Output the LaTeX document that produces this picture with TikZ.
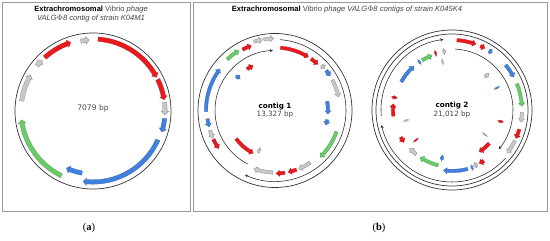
\documentclass[tikz,border=0pt]{standalone}
\usepackage{fontspec}
\setmainfont{Liberation Sans}
\newfontfamily\dejavu{DejaVu Sans}
\newfontfamily\lserif{Liberation Serif}
\usetikzlibrary{arrows.meta}
\definecolor{gred}{RGB}{232,26,30}
\definecolor{gblue}{RGB}{66,128,222}
\definecolor{ggreen}{RGB}{104,204,104}
\definecolor{ggray}{RGB}{200,200,200}
\definecolor{txtgray}{RGB}{70,70,70}
\tikzset{
  gene/red/.style={fill=gred,draw=gred!80!black,line width=0.25pt},
  gene/blue/.style={fill=gblue,draw=gblue!80!black,line width=0.25pt},
  gene/green/.style={fill=ggreen,draw=ggreen!75!black,line width=0.25pt},
  gene/gray/.style={fill=ggray,draw=black!45,line width=0.3pt},
  ring/.style={draw=black!80,line width=0.7pt},
  backbone/.style={draw=black!85,line width=0.55pt,-{Stealth[length=3.2pt,width=3pt]}},
  panel/.style={draw=black!40,line width=0.8pt},
  title/.style={font=\fontsize{7.6}{9}\selectfont,text=txtgray,inner sep=0pt},
  centre/.style={font=\dejavu\fontsize{7.2}{8.5}\selectfont,text=txtgray,inner sep=0pt},
  sublabel/.style={font=\lserif\fontsize{10.5}{12}\selectfont,inner sep=0pt}
}
\def\gw{1.7}\def\gh{3.1}
\newcommand\gene[4]{%
  \pgfmathsetmacro\gA{#2}\pgfmathsetmacro\gB{#3}\pgfmathsetmacro\gR{#1}%
  \pgfmathsetmacro\gS{(\gB)>(\gA) ? 1 : -1}%
  \pgfmathsetmacro\gT{\gS*min(abs((\gB)-(\gA))*0.6, 3.4/\gR*57.3)}%
  \pgfmathsetmacro\gC{(\gB)-(\gT)}%
  \pgfmathsetmacro\gRo{\gR+\gw}\pgfmathsetmacro\gRi{\gR-\gw}%
  \pgfmathsetmacro\gRO{\gR+\gh}\pgfmathsetmacro\gRI{\gR-\gh}%
  \filldraw[gene/#4] (\gA:\gRo pt) arc[start angle=\gA,end angle=\gC,radius=\gRo pt]
    -- (\gC:\gRO pt) -- (\gB:\gR pt) -- (\gC:\gRI pt) -- (\gC:\gRi pt)
    arc[start angle=\gC,end angle=\gA,radius=\gRi pt] -- cycle;}
\newcommand\bbone[3]{\draw[backbone] (#2:#1 pt) arc[start angle=#2,end angle=#3,radius=#1 pt];}
\begin{document}
\begin{tikzpicture}[x=1pt,y=1pt]
\useasboundingbox (0,0) rectangle (550,241);
\fill[white] (0,0) rectangle (550,241);
% panels
\draw[panel] (2,30) rectangle (190,239);
\draw[panel] (193,30) rectangle (547,239);
\node[title] (ta1) at (91,231) {\textbf{\color{black}Extrachromosomal} Vibrio \textit{phage}};
\node[title] (ta2) at (91,222.5) {\textit{VALG$\Phi$8 contig of strain K04M1}};
\node[title] (tb) at (347,231) {\textbf{\color{black}Extrachromosomal} Vibrio \textit{phage VALG$\Phi$8 contigs of strain K045K4}};
\node[sublabel] (la) at (89,13) {(\textbf{a})};
\node[sublabel] (lb) at (379,13) {(\textbf{b})};
% ---------- panel a ----------
\begin{scope}[shift={(93,130)}]
\def\gw{2.2}\def\gh{3.7}
\draw[ring] (0,0) circle[radius=78pt];
\node[centre,font=\dejavu\fontsize{7.6}{9}\selectfont] (ca) at (0,3) {7079 bp};
\gene{72}{132}{108}{red}
\gene{71}{100}{93}{gray}
\gene{72}{86}{28}{red}
\gene{72}{26}{9}{red}
\gene{72}{7}{-3}{gray}
\gene{72}{-6}{-17}{blue}
\gene{71}{-24}{-98}{blue}
\gene{63}{-100}{-115}{blue}
\gene{72}{-116}{-173}{green}
\gene{72}{172}{150}{gray}
\gene{72}{141}{135}{gray}
\end{scope}
% ---------- contig 1 ----------
\begin{scope}[shift={(275,130.5)}]
\draw[ring] (0,0) circle[radius=77pt];
\bbone{71}{86}{-115}
\bbone{60}{-117}{-268}
\node[centre] (c1a) at (0,4) {\textbf{\color{black}contig 1}};
\node[centre] (c1b) at (0,-4.5) {13,327 bp};
\gene{69}{118}{110}{red}
\gene{72}{107}{100}{gray}
\gene{72}{99}{91}{gray}
\gene{70}{133}{121}{green}
\gene{69}{181}{143}{blue}
\gene{68}{187}{194}{blue}
\gene{68}{197}{204}{gray}
\gene{68}{205}{214}{red}
\gene{63}{85}{58}{red}
\gene{63}{55}{47}{red}
\gene{65}{44}{40}{gray}
\gene{65}{38}{32}{blue}
\gene{65}{28}{12}{gray}
\gene{53}{10}{-4}{blue}
\gene{53}{-10}{-16}{blue}
\gene{65}{-19}{-46}{green}
\gene{63}{-56}{-68}{gray}
\gene{63}{-70}{-78}{red}
\gene{63}{-81}{-89}{red}
\gene{62}{-92}{-110}{gray}
\gene{48}{216}{243}{red}
\gene{43}{250}{246}{gray}
\gene{50}{124}{116}{red}
\gene{50}{140}{135}{blue}
\end{scope}
% ---------- contig 2 ----------
\begin{scope}[shift={(452,131)}]
\draw[ring] (0,0) circle[radius=80pt];
\draw[ring] (0,0) circle[radius=76pt];
\bbone{71}{185}{97}
\bbone{72}{-42}{-168}
\bbone{61}{87}{-40}
\node[centre] (c2a) at (0,4) {\textbf{\color{black}contig 2}};
\node[centre] (c2b) at (0,-4.5) {21,012 bp};
\gene{70}{86}{70}{red}
\gene{70}{66}{62}{red}
\gene{70}{58}{55}{blue}
\gene{70}{40}{28}{blue}
\gene{70}{22}{3}{green}
\gene{70}{-2}{-10}{gray}
\gene{70}{-16}{-24}{red}
\gene{70}{-26}{-38}{gray}
\gene{50}{-42}{-57}{red}
\gene{60}{-58}{-63}{red}
\gene{60}{-65}{-69}{gray}
\gene{61}{-70}{-72}{blue}
\gene{61}{-75}{-98}{blue}
\gene{57}{-104}{-124}{green}
\gene{49}{-100}{-104}{blue}
\gene{57}{231}{222}{gray}
\gene{58}{208}{214}{red}
\gene{47}{219}{221}{red}
\gene{47}{192}{194}{gray}
\gene{59}{186}{174}{red}
\gene{59}{169}{166}{red}
\gene{58}{151}{131}{blue}
\gene{58}{125}{123}{blue}
\gene{58}{121}{110}{green}
\gene{59}{107}{105}{red}
\gene{59}{99}{96}{gray}
\gene{49}{102}{100}{gray}
\gene{49}{47}{42}{gray}
\gene{50}{27}{25}{blue}
\gene{50}{-12}{-15}{red}
\gene{41}{-36}{-38}{gray}
\end{scope}
\end{tikzpicture}
\end{document}
